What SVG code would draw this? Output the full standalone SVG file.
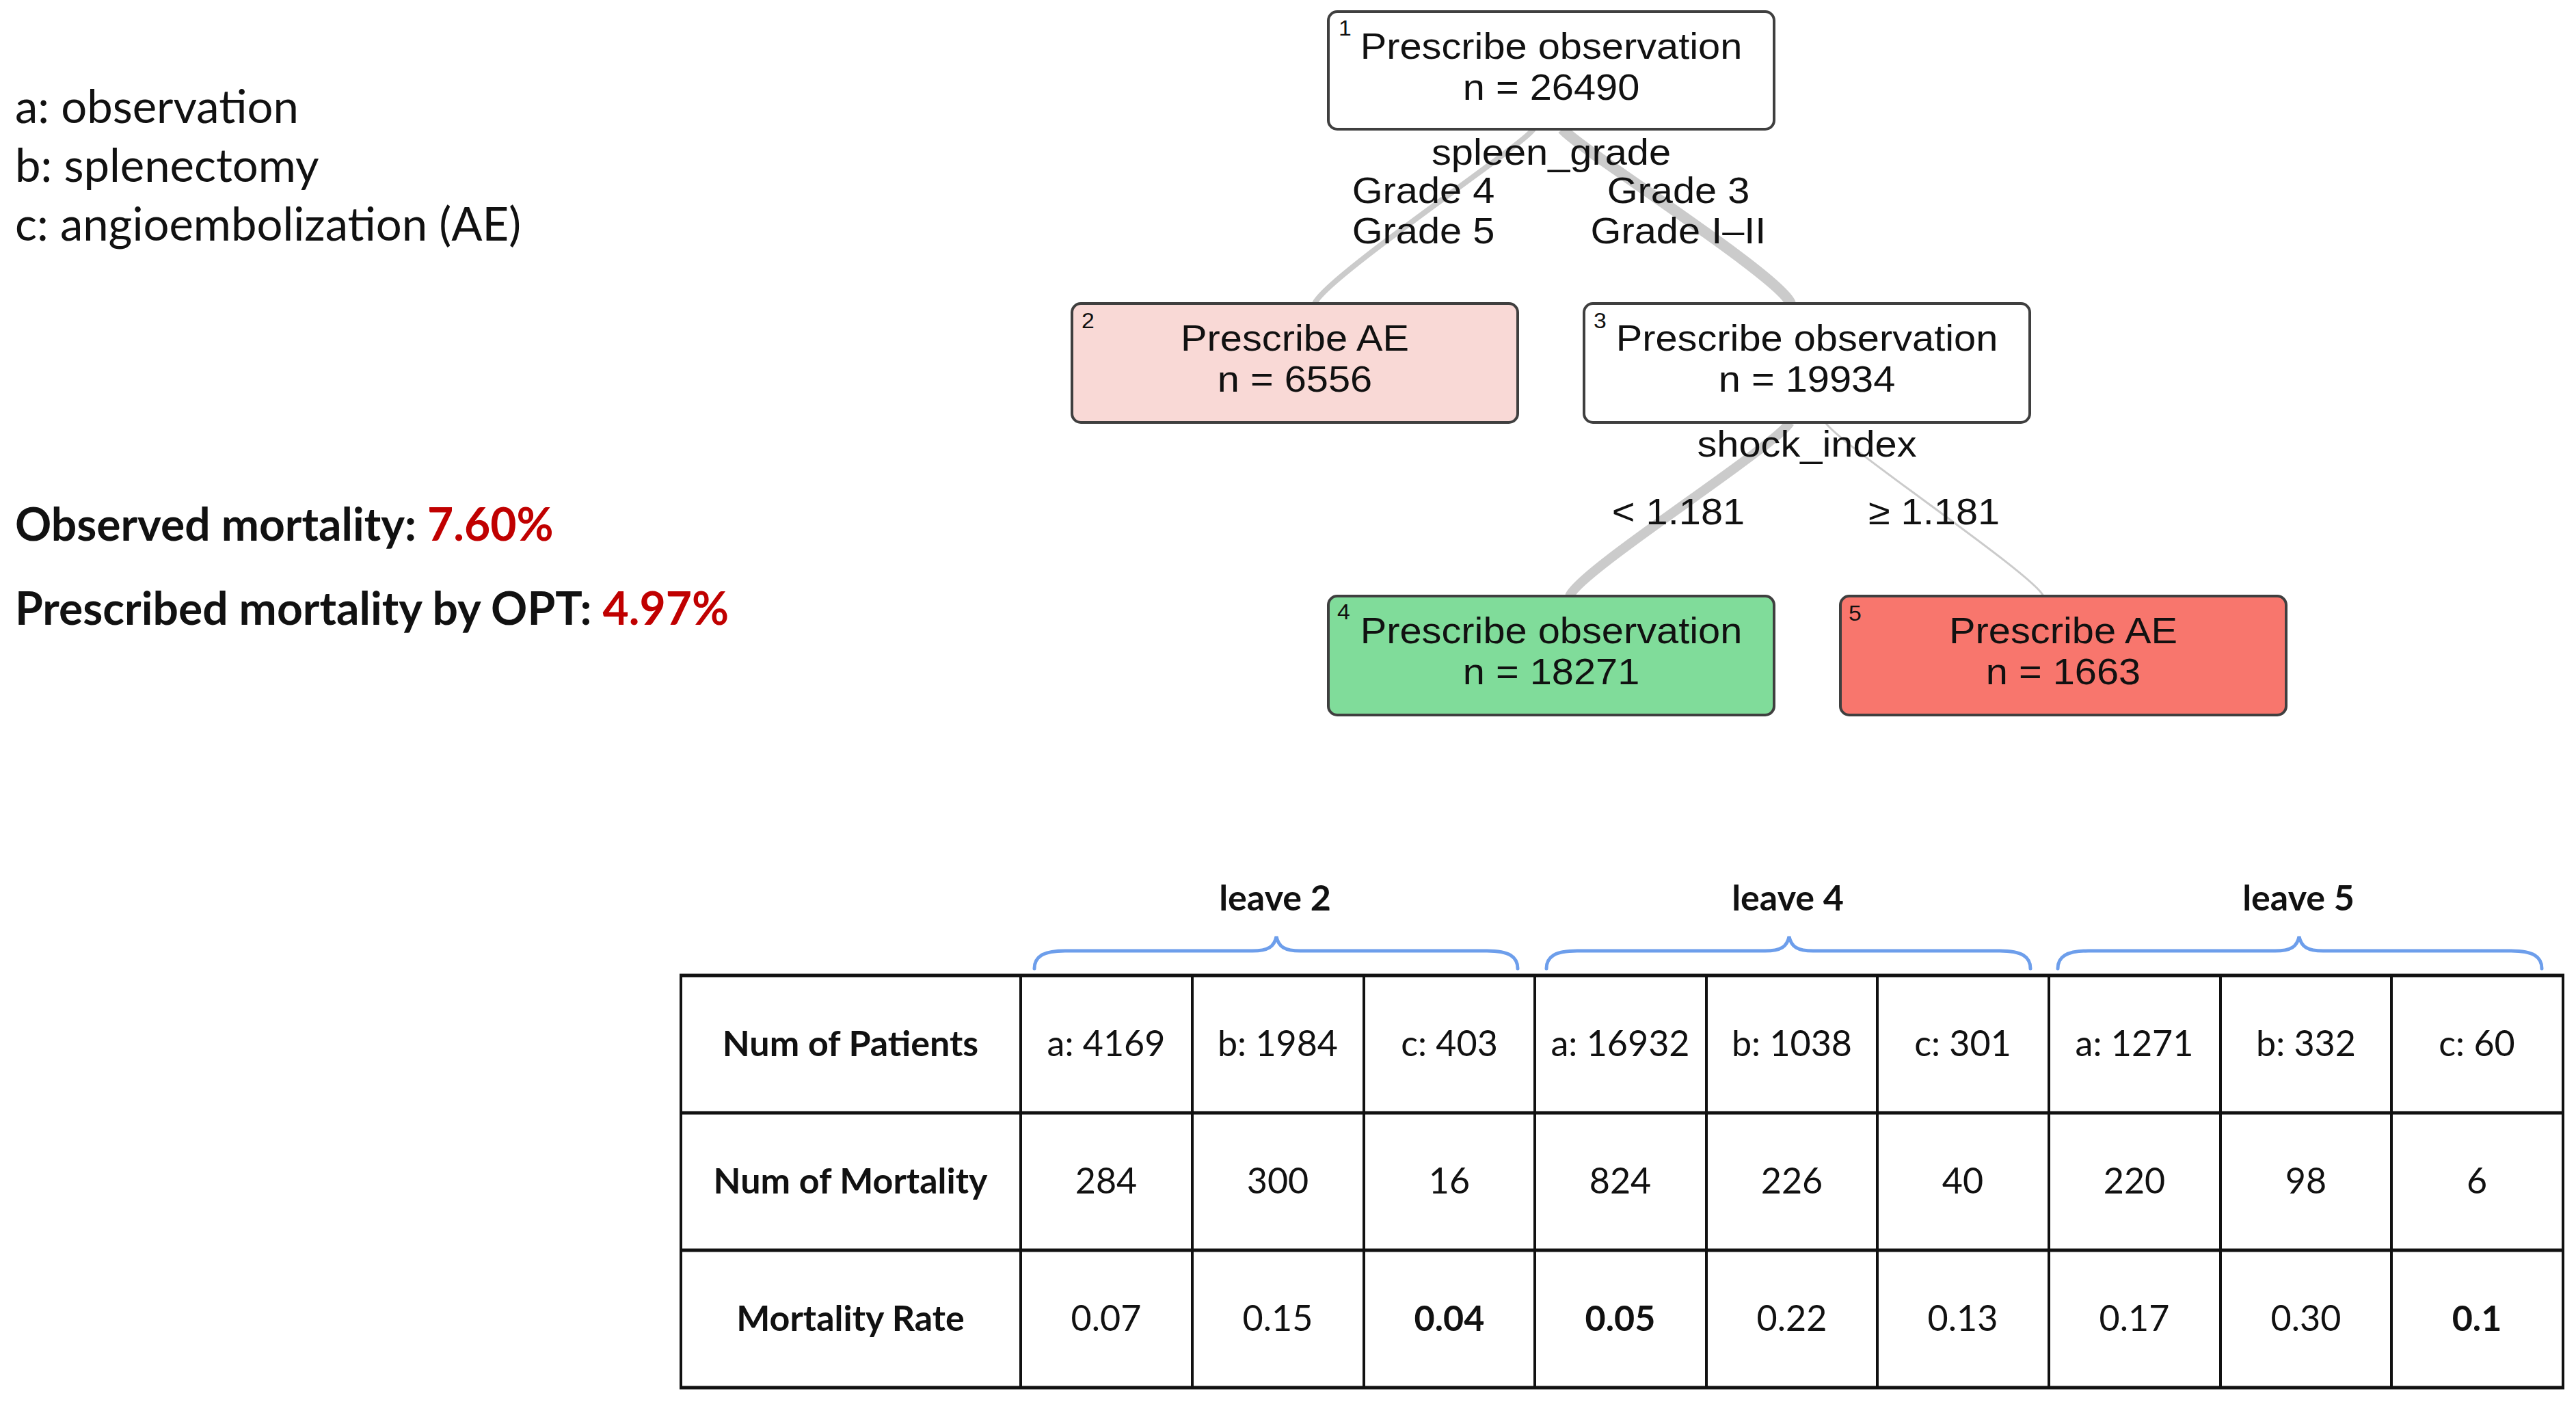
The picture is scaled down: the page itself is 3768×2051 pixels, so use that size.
<svg xmlns="http://www.w3.org/2000/svg" width="3768" height="2051" viewBox="0 0 3768 2051">
<style>
.bg{fill:#ffffff}
.node{stroke:#3f3f3f;stroke-width:4}
.edge{fill:none;stroke:#cbcbcb;stroke-linecap:butt}
.tt{font-family:"Liberation Sans",Arial,sans-serif;font-size:53px;fill:#111;text-anchor:middle}
.num{font-family:"Liberation Sans",Arial,sans-serif;font-size:31px;fill:#111}
.leg{font-family:Lato,"Open Sans",sans-serif;font-size:67px;fill:#111}
.bold{font-family:Lato,"Open Sans",sans-serif;font-size:66px;font-weight:bold;fill:#111}
.red{fill:#c00000}
.cell{font-family:Lato,"Open Sans",sans-serif;font-size:52px;fill:#111;text-anchor:middle}
.cellb{font-family:Lato,"Open Sans",sans-serif;font-size:52px;font-weight:bold;fill:#111;text-anchor:middle}
.brace{fill:none;stroke:#6d9eeb;stroke-width:5;stroke-linecap:round}
.hl{stroke:#111;stroke-width:5}
.vl{stroke:#111;stroke-width:4}
</style>
<rect class="bg" x="0" y="0" width="3768" height="2051"/>

<!-- legend -->
<g id="legend">
<text class="leg" x="22" y="180">a: observation</text>
<text class="leg" x="22" y="266">b: splenectomy</text>
<text class="leg" x="22" y="352">c: angioembolization (AE)</text>
<text class="bold" x="22" y="791">Observed mortality: <tspan class="red">7.60%</tspan></text>
<text class="bold" x="22" y="914">Prescribed mortality by OPT: <tspan class="red">4.97%</tspan></text>
</g>

<!-- connectors -->
<g id="connectors">
<path class="edge" stroke-width="8" d="M2243 189 C2225 215 1940 405 1923 444"/>
<path class="edge" stroke-width="16" d="M2286 189 C2305 215 2606 405 2619 444"/>
<path class="edge" stroke-width="14" d="M2618 618 C2595 655 2310 835 2296 872"/>
<path class="edge" stroke-width="3" d="M2670 618 C2690 650 2975 840 2989 872"/>
</g>

<!-- edge labels -->
<g id="edge-labels">
<text class="tt" transform="translate(2269 241) scale(1.09 1)">spleen_grade</text>
<text class="tt" transform="translate(2082 297) scale(1.09 1)">Grade 4</text>
<text class="tt" transform="translate(2082 356) scale(1.09 1)">Grade 5</text>
<text class="tt" transform="translate(2455 297) scale(1.09 1)">Grade 3</text>
<text class="tt" transform="translate(2455 356) scale(1.09 1)">Grade I–II</text>
<text class="tt" transform="translate(2643 668) scale(1.09 1)">shock_index</text>
<text class="tt" transform="translate(2455 767) scale(1.09 1)">&lt; 1.181</text>
<text class="tt" transform="translate(2829 767) scale(1.09 1)">≥ 1.181</text>
</g>

<!-- nodes -->
<g id="node1">
<rect class="node" x="1943" y="17" width="652" height="172" rx="13" fill="#ffffff"/>
<text class="num" transform="translate(1958 52) scale(1.09 1)">1</text>
<text class="tt" transform="translate(2269 86) scale(1.09 1)">Prescribe observation</text>
<text class="tt" transform="translate(2269 146) scale(1.09 1)">n = 26490</text>
</g>
<g id="node2">
<rect class="node" x="1568" y="444" width="652" height="174" rx="13" fill="#f9d9d6"/>
<text class="num" transform="translate(1582 480) scale(1.09 1)">2</text>
<text class="tt" transform="translate(1894 513) scale(1.09 1)">Prescribe AE</text>
<text class="tt" transform="translate(1894 573) scale(1.09 1)">n = 6556</text>
</g>
<g id="node3">
<rect class="node" x="2317" y="444" width="652" height="174" rx="13" fill="#ffffff"/>
<text class="num" transform="translate(2331 480) scale(1.09 1)">3</text>
<text class="tt" transform="translate(2643 513) scale(1.09 1)">Prescribe observation</text>
<text class="tt" transform="translate(2643 573) scale(1.09 1)">n = 19934</text>
</g>
<g id="node4">
<rect class="node" x="1943" y="872" width="652" height="174" rx="13" fill="#80dc9a"/>
<text class="num" transform="translate(1956 906) scale(1.09 1)">4</text>
<text class="tt" transform="translate(2269 941) scale(1.09 1)">Prescribe observation</text>
<text class="tt" transform="translate(2269 1001) scale(1.09 1)">n = 18271</text>
</g>
<g id="node5">
<rect class="node" x="2692" y="872" width="652" height="174" rx="13" fill="#f8766d"/>
<text class="num" transform="translate(2704 908) scale(1.09 1)">5</text>
<text class="tt" transform="translate(3018 941) scale(1.09 1)">Prescribe AE</text>
<text class="tt" transform="translate(3018 1001) scale(1.09 1)">n = 1663</text>
</g>

<!-- braces and leave labels -->
<g id="braces">
<path class="brace" d="M1513 1417 C1513 1400 1525 1391 1558 1391 L1832 1391 C1855 1391 1864 1385 1867 1370 C1870 1385 1879 1391 1902 1391 L2175 1391 C2208 1391 2220 1400 2220 1417"/>
<path class="brace" d="M2262 1417 C2262 1400 2274 1391 2307 1391 L2582 1391 C2605 1391 2614 1385 2617 1370 C2620 1385 2629 1391 2652 1391 L2925 1391 C2958 1391 2970 1400 2970 1417"/>
<path class="brace" d="M3010 1417 C3010 1400 3022 1391 3055 1391 L3328 1391 C3351 1391 3360 1385 3363 1370 C3366 1385 3375 1391 3398 1391 L3673 1391 C3706 1391 3718 1400 3718 1417"/>
<text class="cellb" x="1865" y="1332">leave 2</text>
<text class="cellb" x="2615" y="1332">leave 4</text>
<text class="cellb" x="3362" y="1332">leave 5</text>
</g>

<!-- table -->
<g id="table">
<line class="hl" x1="994" y1="1427" x2="3751" y2="1427"/>
<line class="hl" x1="994" y1="1628" x2="3751" y2="1628"/>
<line class="hl" x1="994" y1="1829" x2="3751" y2="1829"/>
<line class="hl" x1="994" y1="2030" x2="3751" y2="2030"/>
<line class="vl" x1="996" y1="1427" x2="996" y2="2030"/>
<line class="vl" x1="1493" y1="1427" x2="1493" y2="2030"/>
<line class="vl" x1="1744" y1="1427" x2="1744" y2="2030"/>
<line class="vl" x1="1995" y1="1427" x2="1995" y2="2030"/>
<line class="vl" x1="2245" y1="1427" x2="2245" y2="2030"/>
<line class="vl" x1="2496" y1="1427" x2="2496" y2="2030"/>
<line class="vl" x1="2746" y1="1427" x2="2746" y2="2030"/>
<line class="vl" x1="2997" y1="1427" x2="2997" y2="2030"/>
<line class="vl" x1="3248" y1="1427" x2="3248" y2="2030"/>
<line class="vl" x1="3498" y1="1427" x2="3498" y2="2030"/>
<line class="vl" x1="3749" y1="1427" x2="3749" y2="2030"/>

<text class="cellb" x="1244" y="1545">Num of Patients</text>
<text class="cellb" x="1244" y="1746">Num of Mortality</text>
<text class="cellb" x="1244" y="1947">Mortality Rate</text>

<text class="cell" x="1618" y="1545">a: 4169</text>
<text class="cell" x="1869" y="1545">b: 1984</text>
<text class="cell" x="2120" y="1545">c: 403</text>
<text class="cell" x="2370" y="1545">a: 16932</text>
<text class="cell" x="2621" y="1545">b: 1038</text>
<text class="cell" x="2871" y="1545">c: 301</text>
<text class="cell" x="3122" y="1545">a: 1271</text>
<text class="cell" x="3373" y="1545">b: 332</text>
<text class="cell" x="3623" y="1545">c: 60</text>

<text class="cell" x="1618" y="1746">284</text>
<text class="cell" x="1869" y="1746">300</text>
<text class="cell" x="2120" y="1746">16</text>
<text class="cell" x="2370" y="1746">824</text>
<text class="cell" x="2621" y="1746">226</text>
<text class="cell" x="2871" y="1746">40</text>
<text class="cell" x="3122" y="1746">220</text>
<text class="cell" x="3373" y="1746">98</text>
<text class="cell" x="3623" y="1746">6</text>

<text class="cell" x="1618" y="1947">0.07</text>
<text class="cell" x="1869" y="1947">0.15</text>
<text class="cellb" x="2120" y="1947">0.04</text>
<text class="cellb" x="2370" y="1947">0.05</text>
<text class="cell" x="2621" y="1947">0.22</text>
<text class="cell" x="2871" y="1947">0.13</text>
<text class="cell" x="3122" y="1947">0.17</text>
<text class="cell" x="3373" y="1947">0.30</text>
<text class="cellb" x="3623" y="1947">0.1</text>
</g>
</svg>
